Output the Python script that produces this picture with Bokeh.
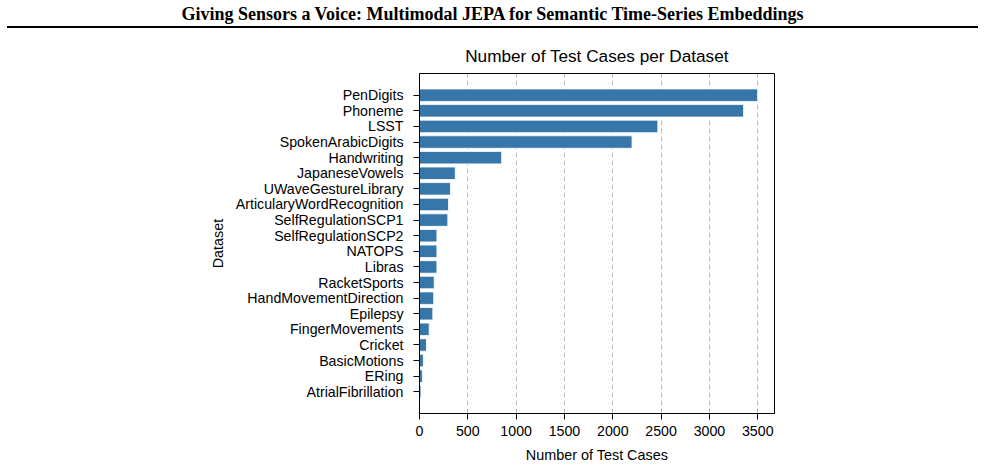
from bokeh.plotting import figure
from bokeh.models import Div, FactorRange, Range1d, FixedTicker
from bokeh.layouts import column
from bokeh.embed import file_html
from bokeh.resources import INLINE

# Test-set sizes of the multivariate datasets (largest first)
datasets = [
    "PenDigits", "Phoneme", "LSST", "SpokenArabicDigits", "Handwriting",
    "JapaneseVowels", "UWaveGestureLibrary", "ArticularyWordRecognition",
    "SelfRegulationSCP1", "SelfRegulationSCP2", "NATOPS", "Libras",
    "RacketSports", "HandMovementDirection", "Epilepsy", "FingerMovements",
    "Cricket", "BasicMotions", "ERing", "AtrialFibrillation",
]
test_cases = [
    3498, 3353, 2466, 2199, 850,
    370, 320, 300,
    293, 180, 180, 180,
    152, 147, 138, 100,
    72, 40, 30, 15,
]
x_ticks = [0, 500, 1000, 1500, 2000, 2500, 3000, 3500]

SANS = "Liberation Sans"
BAR = "#3776a8"

header = Div(
    text=(
        '<div style="box-sizing:border-box;width:971px;margin-left:7px;text-align:center;'
        "font-family:'Liberation Serif';font-weight:bold;font-size:18px;"
        'line-height:24px;padding-top:2px;height:28px;border-bottom:2px solid #000;color:#000;">'
        "Giving Sensors a Voice: Multimodal JEPA for Semantic Time-Series Embeddings"
        "</div>"
    ),
    width=985,
    height=28,
    margin=(0, 0, 0, 0),
)

# bottom-to-top order so the largest dataset sits at the top
factors = datasets[::-1]

p = figure(
    width=985,
    height=439,
    y_range=FactorRange(factors=factors, range_padding=0.89,
                        range_padding_units="absolute"),
    x_range=Range1d(0, 3673),
    output_backend="svg",
    toolbar_location=None,
    title="Number of Test Cases per Dataset",
    min_border_left=419,
    min_border_right=211,
    min_border_top=45,
    min_border_bottom=54,
    margin=(0, 0, 0, 0),
)

p.hbar(y=datasets, right=test_cases, left=0, height=0.8,
       fill_color=BAR, line_color="#ffffff", line_width=0.8)

p.title.align = "center"
p.title.text_font = SANS
p.title.text_font_style = "normal"
p.title.text_font_size = "17.2px"
p.title.text_color = "#000000"
p.title.offset = 0
p.title.standoff = 15

p.outline_line_color = "#000000"
p.outline_line_alpha = 1.0
p.outline_line_width = 1

p.ygrid.grid_line_color = None
p.xgrid.grid_line_color = "#b8b8b8"
p.xgrid.grid_line_dash = "5 3"
p.xgrid.grid_line_width = 1
p.xgrid.ticker = FixedTicker(ticks=x_ticks)

p.xaxis.ticker = FixedTicker(ticks=x_ticks)
p.xaxis.axis_label = "Number of Test Cases"
p.yaxis.axis_label = "Dataset"

for ax in (p.xaxis, p.yaxis):
    ax.axis_line_color = "#000000"
    ax.major_tick_line_color = "#000000"
    ax.major_tick_out = 6
    ax.major_tick_in = 0
    ax.minor_tick_line_color = None
    ax.major_label_text_font = SANS
    ax.major_label_text_font_size = "14.2px"
    ax.major_label_text_color = "#000000"
    ax.axis_label_text_font = SANS
    ax.axis_label_text_font_size = "14.4px"
    ax.axis_label_text_font_style = "normal"
    ax.axis_label_text_color = "#000000"

p.yaxis.major_label_standoff = 10
p.xaxis.major_label_standoff = 6
p.yaxis.axis_label_standoff = 7
p.xaxis.axis_label_standoff = 8

layout = column(header, p, spacing=0, margin=(0, 0, 0, 0))

open("out.html", "w").write(file_html(layout, INLINE))
